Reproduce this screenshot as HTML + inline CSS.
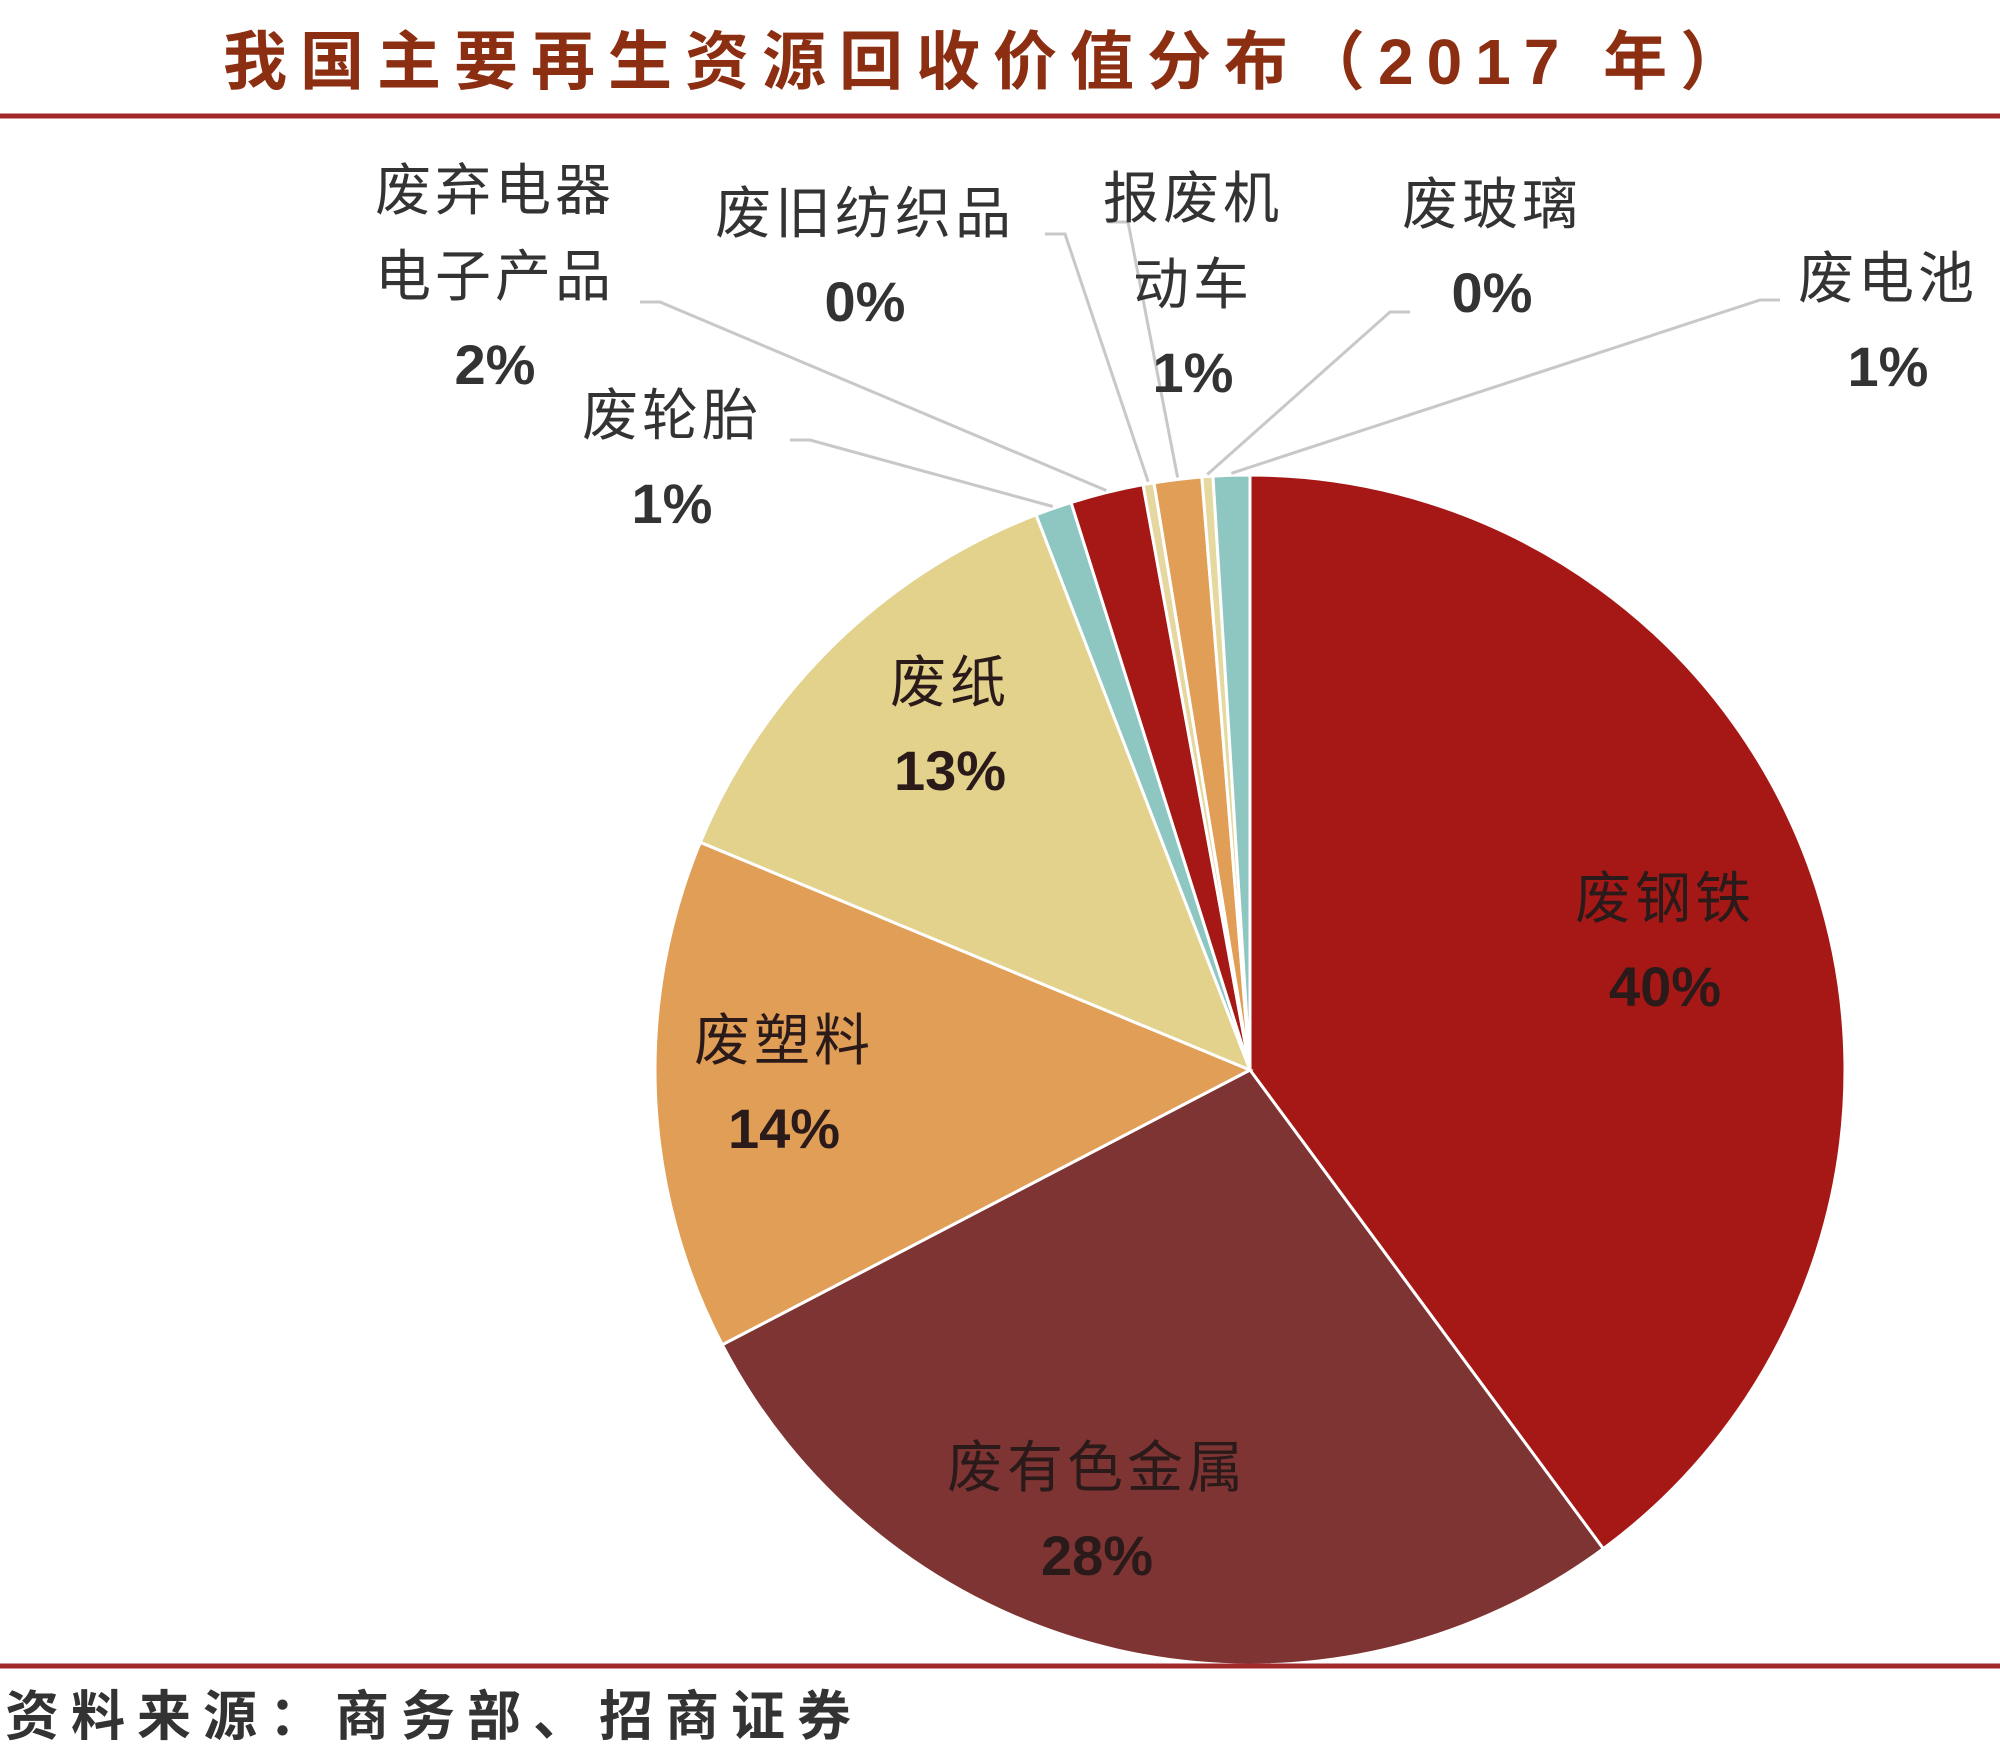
<!DOCTYPE html>
<html><head><meta charset="utf-8"><style>
html,body{margin:0;padding:0;background:#fff;}
svg{display:block;}
text{font-family:"Liberation Sans","Noto Sans CJK SC",sans-serif;}
</style></head><body>
<svg id="chart" width="2000" height="1757" viewBox="0 0 2000 1757" xmlns="http://www.w3.org/2000/svg">
<text x="223" y="84" font-size="64" font-weight="bold" fill="#8B2E12" letter-spacing="13">我国主要再生资源回收价值分布（2017 年）</text>
<line x1="0" y1="116" x2="2000" y2="116" stroke="#A3282A" stroke-width="5"/>
<g id="slices"></g>
<g id="leaders"></g>
<g id="labels"></g>
<line x1="0" y1="1666" x2="2000" y2="1666" stroke="#A3282A" stroke-width="5"/>
<text x="5" y="1735" font-size="54" font-weight="bold" fill="#333" letter-spacing="12">资料来源：商务部、招商证券</text>
</svg>
<script>
const categories=["废钢铁","废有色金属","废塑料","废纸","废轮胎","废弃电器电子产品","废旧纺织品","报废机动车","废玻璃","废电池"];
const values=[40.2,27.7,14,13,1,2,0.3,1.3,0.3,1];
const pctLabels=["40%","28%","14%","13%","1%","2%","0%","1%","0%","1%"];
const colors=["#A51816","#7F3434","#E19E56","#E2D28C","#8EC6C2","#A51816","#E6D7A0","#E19E56","#E6D9A0","#8EC6C2"];
const cx=1250,cy=1070,R=595;
const NS="http://www.w3.org/2000/svg";
const total=values.reduce((a,b)=>a+b,0);
function pt(a,r){return [cx+r*Math.sin(a),cy-r*Math.cos(a)];}
const gS=document.getElementById('slices'),gL=document.getElementById('leaders'),gT=document.getElementById('labels');
const layout=[
 {lines:["废钢铁"],x:1665,y:918,inside:true},
 {lines:["废有色金属"],x:1097,y:1487,inside:true},
 {lines:["废塑料"],x:784,y:1060,inside:true},
 {lines:["废纸"],x:950,y:702,inside:true},
 {lines:["废轮胎"],x:672,y:435,lead:[790,440]},
 {lines:["废弃电器","电子产品"],x:495,y:210,lead:[640,302]},
 {lines:["废旧纺织品"],x:865,y:233,lead:[1045,234]},
 {lines:["报废机","动车"],x:1193,y:218,lead:[1108,222]},
 {lines:["废玻璃"],x:1492,y:224,lead:[1410,312]},
 {lines:["废电池"],x:1888,y:298,lead:[1780,300]}
];
let acc=0;
values.forEach((v,i)=>{
  const a0=acc/total*2*Math.PI; acc+=v; const a1=acc/total*2*Math.PI;
  const p0=pt(a0,R),p1=pt(a1,R);
  const p=document.createElementNS(NS,'path');
  p.setAttribute('d',`M${cx},${cy}L${p0[0]},${p0[1]}A${R},${R} 0 ${(a1-a0)>Math.PI?1:0} 1 ${p1[0]},${p1[1]}Z`);
  p.setAttribute('fill',colors[i]);
  p.setAttribute('stroke','#fff');p.setAttribute('stroke-width','3');
  
  
  gS.appendChild(p);
  const L=layout[i];
  const lh=86;
  if(L.lead){
    const am=(a0+a1)/2, e=pt(am,R+2);
    const ln=document.createElementNS(NS,'polyline');
    ln.setAttribute('points',`${L.lead[0]},${L.lead[1]} ${L.lead[0]+ (L.lead[0]<e[0]?20:-20)},${L.lead[1]} ${e[0]},${e[1]}`);
    ln.setAttribute('fill','none');ln.setAttribute('stroke','#C8C8C8');ln.setAttribute('stroke-width','3');
    
    
    gL.appendChild(ln);
  }
  const lines=L.lines.concat([pctLabels[i]]);
  lines.forEach((s,k)=>{
    const t=document.createElementNS(NS,'text');
    const pct=(k===lines.length-1);
    t.setAttribute('x',L.x);t.setAttribute('y',L.y+k*lh+(pct?2:0));
    t.setAttribute('text-anchor','middle');
    t.setAttribute('font-size','56');
    if(pct)t.setAttribute('font-weight','bold');
    else t.setAttribute('letter-spacing','4');
    t.setAttribute('fill',L.inside?'#2a1a1a':'#333');
    t.textContent=s;
    
    
    gT.appendChild(t);
  });
});
</script>
</body></html>
